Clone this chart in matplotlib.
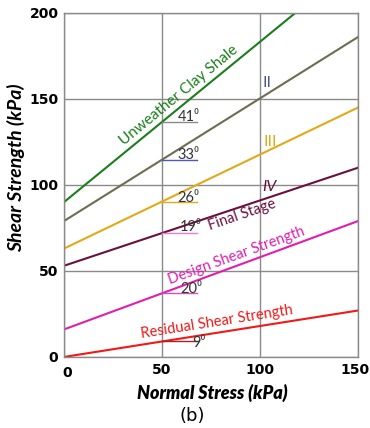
import matplotlib
matplotlib.use("Agg")
import matplotlib.pyplot as plt
import matplotlib.transforms as mtransforms
import numpy as np

# Data: endpoints of each strength envelope
x_green = [0, 118]
y_green = [90, 200]
x_span = [0, 150]
y_olive = [79, 186]
y_yellow = [63, 145]
y_maroon = [53, 110]
y_magenta = [16, 79]
y_red = [0, 27]

angle_labels = ["41⁰", "33⁰", "26⁰", "19⁰", "20⁰", "9⁰"]
xticks = [0, 50, 100, 150]
yticks = [0, 50, 100, 150, 200]

c_green = "#1b7d1b"
c_olive = "#6e6c50"
c_yellow = "#e2a918"
c_maroon = "#6a1040"
c_magenta = "#e01eae"
c_red = "#f01818"

fig = plt.figure(figsize=(3.70, 4.28), dpi=100)
ax = fig.add_axes([0.173, 0.166, 0.795, 0.804])
ax.set_xlim(0, 150)
ax.set_ylim(0, 200)

for s in ax.spines.values():
    s.set_color("#8a8a8a")
    s.set_linewidth(1.0)
ax.set_xticks(xticks)
ax.set_yticks(yticks)
ax.grid(True, color="#8a8a8a", linewidth=1.0)
ax.tick_params(length=0, pad=4)
ax.set_xticklabels([str(v) for v in xticks], fontsize=10, fontweight="bold", family="DejaVu Sans")
ax.set_yticklabels([str(v) for v in yticks], fontsize=10, fontweight="bold", family="DejaVu Sans")
ax.set_axisbelow(True)

# nudge edge tick labels like the reference
xl = ax.get_xticklabels()
xl[-1].set_transform(xl[-1].get_transform() + mtransforms.ScaledTranslation(-3 / 100, 0, fig.dpi_scale_trans))
xl[0].set_transform(xl[0].get_transform() + mtransforms.ScaledTranslation(3 / 100, -3 / 100, fig.dpi_scale_trans))

lw = 1.5
ax.plot(x_green, y_green, color=c_green, lw=lw)
ax.plot(x_span, y_olive, color=c_olive, lw=lw)
ax.plot(x_span, y_yellow, color=c_yellow, lw=lw)
ax.plot(x_span, y_maroon, color=c_maroon, lw=lw)
ax.plot(x_span, y_magenta, color=c_magenta, lw=lw)
ax.plot(x_span, y_red, color=c_red, lw=lw)

# angle marker lines at x = 50
series = [(x_green, y_green, "#8a8a8a"), (x_span, y_olive, "#4a5ac0"),
          (x_span, y_yellow, c_yellow), (x_span, y_maroon, "#f07ad0"),
          (x_span, y_magenta, "#d050c0"), (x_span, y_red, "#b02020")]
label_pos = [(63.5, 139.5), (63.5, 117.5), (63.5, 92.5), (64.5, 75.5), (65, 39.5), (69, 8)]
tf = ["Lato", "DejaVu Sans"]
for (xs, ys, col), lab, (tx, ty) in zip(series, angle_labels, label_pos):
    y50 = np.interp(50, xs, ys)
    ax.plot([50, 68], [y50, y50], color=col, lw=1.0)
    ax.text(tx, ty, lab, fontsize=10.5, color="#333333", ha="center", va="center", family=tf)

ax.text(58.5, 152, "Unweather Clay Shale", color=c_green, fontsize=11, rotation=39.5,
        ha="center", va="center", family=tf, rotation_mode="anchor")
ax.text(103.6, 159, "II", color="#4a5a8a", fontsize=11.5, ha="center", va="center", family=tf)
ax.text(105, 125, "III", color=c_yellow, fontsize=11.5, ha="center", va="center", family=tf)
ax.text(104.8, 99, "IV", color=c_maroon, fontsize=11.5, ha="center", va="center", family=tf,
        style="italic")
ax.text(91, 82.5, "Final Stage", color=c_maroon, fontsize=10.5, rotation=19,
        ha="center", va="center", family=tf, rotation_mode="anchor")
ax.text(88, 59, "Design Shear Strength", color=c_magenta, fontsize=10.5, rotation=20,
        ha="center", va="center", family=tf, rotation_mode="anchor")
ax.text(78, 20, "Residual Shear Strength", color=c_red, fontsize=10.5, rotation=9,
        ha="center", va="center", family=tf, rotation_mode="anchor")

ax.set_xlabel("Normal Stress (kPa)", fontsize=13, fontweight="heavy", style="italic", family=tf)
ax.xaxis.set_label_coords(0.503, -0.078)
ax.set_ylabel("Shear Strength (kPa)", fontsize=14, fontweight="bold", style="italic", family=tf)
ax.yaxis.set_label_coords(-0.133, 0.55)
fig.text(192 / 370, 1 - 416 / 428, "(b)", fontsize=13, ha="center", va="center",
         family="DejaVu Sans")

fig.savefig("out.png", dpi=100)
